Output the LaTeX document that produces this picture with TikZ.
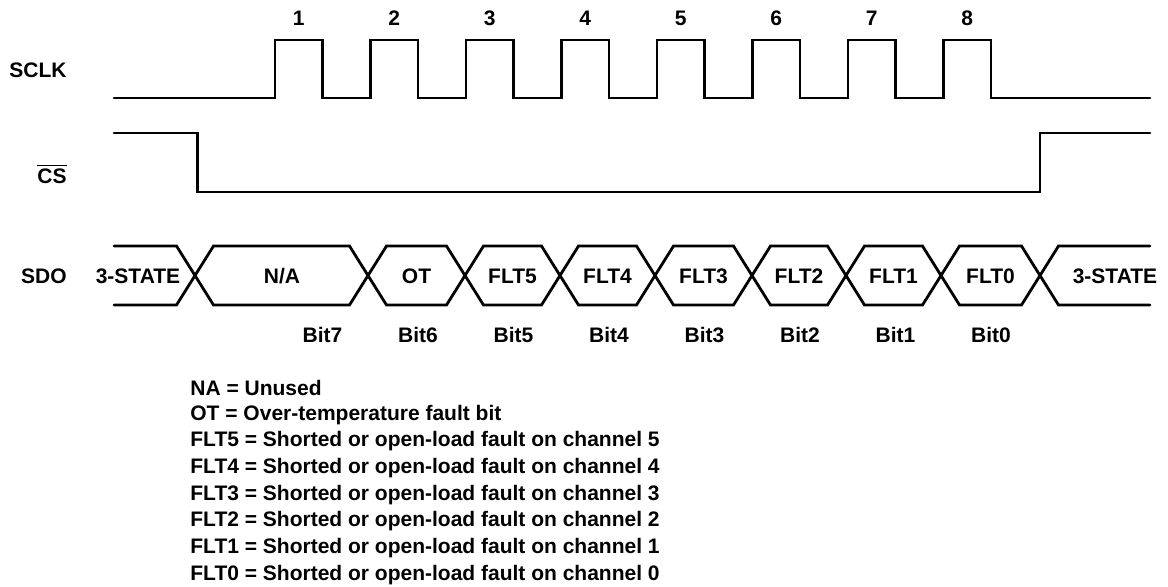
\documentclass[tikz,border=0pt]{standalone}
\usepackage{fontspec}
\setmainfont{Liberation Sans}
\usetikzlibrary{positioning}

\tikzset{
  wave/.style={line width=1.4pt, line cap=round, line join=miter},
  lbl/.style={font=\fontsize{10.5}{12.6}\selectfont\bfseries, inner sep=0pt},
}

\begin{document}
\begin{tikzpicture}[x=0.5pt, y=-0.5pt, every node/.style={lbl}]
  \useasboundingbox (0,0) rectangle (1168,586);
  % Signal names
  \node[anchor=east] (sclk) at (67,70) {SCLK};
  \node[anchor=east] (cs) at (67,174) {$\overline{\textbf{CS}}$};
  \node[anchor=east] (sdo) at (67,276) {SDO};
  % SCLK
  \draw[wave] (114,98) -| (275,40) -| (322.5,98) -| (370.5,40) -| (418,98)
    -| (466,40) -| (513.5,98) -| (561.5,40) -| (609,98) -| (657,40) -| (704.5,98)
    -| (752.5,40) -| (800,98) -| (848,40) -| (895.5,98) -| (943.5,40) -| (991,98)
    -- (1150,98);
  \foreach \k [evaluate=\k as \x using 298.75+95.5*(\k-1)] in {1,...,8}
    \node (clk\k) at (\x,18) {\k};
  % CS
  \draw[wave] (114,133) -| (197.5,192) -| (1040,133) -- (1150,133);
  % SDO
  \draw[wave] (114,246) -- (176.5,246) -- (195,275.5) -- (176.5,305) -- (114,305);
  \foreach \a/\b in {195/368, 368/465, 465/560, 560/655, 655/752, 752/846, 846/941, 941/1040}
    \draw[wave] (\a,275.5) -- (\a+18.5,246) -- (\b-18.5,246) -- (\b,275.5)
      -- (\b-18.5,305) -- (\a+18.5,305) -- cycle;
  \draw[wave] (1150,246) -- (1058.5,246) -- (1040,275.5) -- (1058.5,305) -- (1150,305);
  \node (hiz1) at (138,276) {3-STATE};
  \node (na) at (282,276) {N/A};
  \node (ot) at (416.5,276) {OT};
  \node (flt5) at (512.5,276) {FLT5};
  \node (flt4) at (607.5,276) {FLT4};
  \node (flt3) at (703.5,276) {FLT3};
  \node (flt2) at (799,276) {FLT2};
  \node (flt1) at (893.5,276) {FLT1};
  \node (flt0) at (990.5,276) {FLT0};
  \node (hiz2) at (1115,276) {3-STATE};
  % Bit numbers
  \foreach \k [evaluate=\k as \x using 322.5+95.5*(7-\k)] in {7,...,0}
    \node (bit\k) at (\x,335) {Bit\k};
  % Legend
  \node[anchor=west] (key1) at (190,388) {NA = Unused};
  \node[anchor=west] (key2) at (190,414.7) {OT = Over-temperature fault bit};
  \node[anchor=west] (key3) at (190,441.4) {FLT5 = Shorted or open-load fault on channel 5};
  \node[anchor=west] (key4) at (190,468.1) {FLT4 = Shorted or open-load fault on channel 4};
  \node[anchor=west] (key5) at (190,494.8) {FLT3 = Shorted or open-load fault on channel 3};
  \node[anchor=west] (key6) at (190,521.5) {FLT2 = Shorted or open-load fault on channel 2};
  \node[anchor=west] (key7) at (190,548.2) {FLT1 = Shorted or open-load fault on channel 1};
  \node[anchor=west] (key8) at (190,574.9) {FLT0 = Shorted or open-load fault on channel 0};
\end{tikzpicture}
\end{document}
